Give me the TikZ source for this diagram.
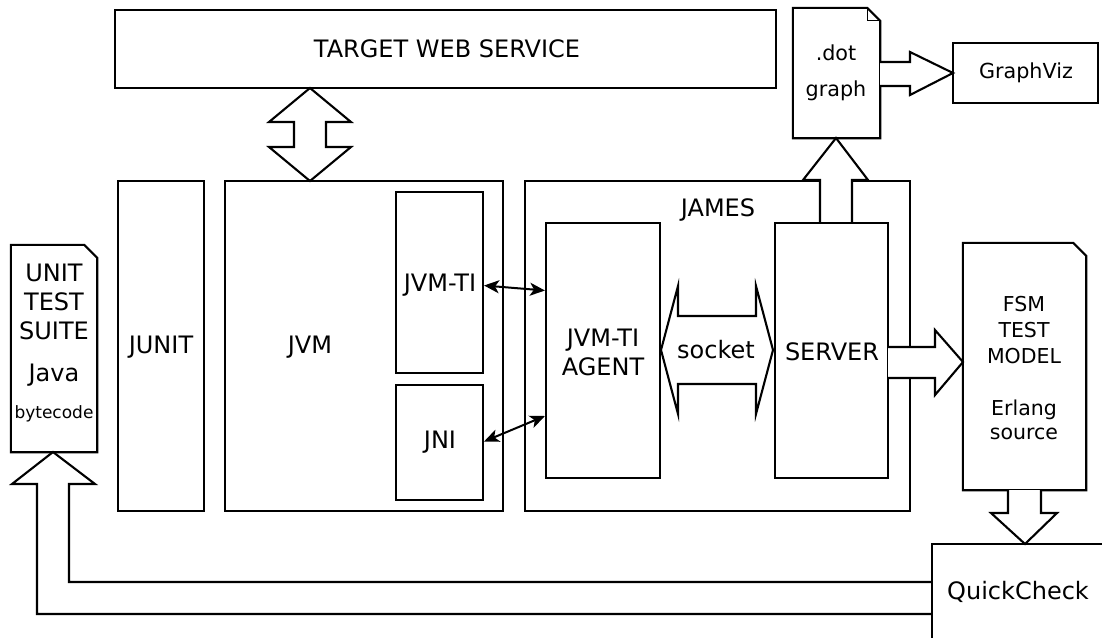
\documentclass[tikz,border=0pt]{standalone}
\usepackage{fontspec}
\setmainfont{DejaVu Sans}
\usetikzlibrary{arrows.meta}
\tikzset{
  box/.style={draw, line width=2.1pt, rectangle, inner sep=0pt},
  ghost/.style={rectangle, inner sep=0pt},
  lbl/.style={inner sep=0pt, font=\fontsize{24}{29}\selectfont},
  lblb/.style={inner sep=0pt, anchor=base, font=\fontsize{24}{29}\selectfont},
  fat/.style={draw, fill=white, line width=2.1pt, line join=miter},
  thin/.style={line width=2pt, {Stealth[length=15pt,width=13pt,inset=4pt]}-{Stealth[length=15pt,width=13pt,inset=4pt]}},
}
\begin{document}
\begin{tikzpicture}[x=1pt,y=-1pt]
\useasboundingbox (0,0) rectangle (1102,637);
\clip (0,0) rectangle (1102,637);
% boxes
\node[box, minimum width=661, minimum height=78] (tws) at (445.5,49) {};
\node[lbl] (twst) at (447,49) {TARGET WEB SERVICE};
\node[box, minimum width=86, minimum height=330] (junit) at (161,346) {};
\node[lbl] (junitt) at (161,347) {JUNIT};
\node[box, minimum width=278, minimum height=330] (jvm) at (364,346) {};
\node[lbl] (jvmt) at (310,347) {JVM};
\node[box, minimum width=87, minimum height=181] (jvmti) at (439.5,282.5) {};
\node[lbl] (jvmtit) at (440,285) {JVM-TI};
\node[box, minimum width=87, minimum height=115] (jni) at (439.5,442.5) {};
\node[lbl] (jnit) at (440,442) {JNI};
\node[box, minimum width=385, minimum height=330] (james) at (717.5,346) {};
\node[lbl] (jamest) at (718,210) {JAMES};
\node[box, minimum width=114, minimum height=255] (agent) at (603,350.5) {};
\node[lbl, align=center] (agentt) at (603,352) {JVM-TI\\AGENT};
\node[box, minimum width=113, minimum height=255] (server) at (831.5,350.5) {};
\node[lbl] (servert) at (832,352) {SERVER};
\node[box, minimum width=145, minimum height=60] (gv) at (1025.5,73) {};
\node[lbl, font=\fontsize{20.7}{24}\selectfont] (gvt) at (1026,73) {GraphViz};
\node[box, minimum width=180, minimum height=110] (qc) at (1022,599) {};
\node[lbl] (qct) at (1018,592) {QuickCheck};
% notes with folded corners
\node[ghost, minimum width=87, minimum height=130] (dot) at (836.5,73) {};
\draw[line width=2.1pt, line join=miter] (dot.north west) -- ([xshift=-13pt]dot.north east) -- ([yshift=-13pt]dot.north east) -- (dot.south east) -- (dot.south west) -- cycle;
\draw[line width=0.8pt] ([xshift=-13pt]dot.north east) |- ([yshift=-13pt]dot.north east);
\node[lblb, font=\fontsize{20.7}{24}\selectfont] (dott1) at (836,60) {.dot};
\node[lblb, font=\fontsize{20.7}{24}\selectfont] (dott2) at (836,96) {graph};
\node[ghost, minimum width=123, minimum height=247] (fsm) at (1024.5,366.5) {};
\draw[line width=2.1pt, line join=miter] (fsm.north west) -- ([xshift=-13pt]fsm.north east) -- ([yshift=-13pt]fsm.north east) -- (fsm.south east) -- (fsm.south west) -- cycle;
\node[lblb, font=\fontsize{20.5}{24}\selectfont] (fsm1) at (1024,311) {FSM};
\node[lblb, font=\fontsize{20.5}{24}\selectfont] (fsm2) at (1024,337) {TEST};
\node[lblb, font=\fontsize{20.5}{24}\selectfont] (fsm3) at (1024,363) {MODEL};
\node[lblb, font=\fontsize{20.5}{24}\selectfont] (fsm4) at (1024,415) {Erlang};
\node[lblb, font=\fontsize{20.5}{24}\selectfont] (fsm5) at (1024,439) {source};
\node[ghost, minimum width=86, minimum height=207] (uts) at (54,348.5) {};
\draw[line width=2.1pt, line join=miter] (uts.north west) -- ([xshift=-13pt]uts.north east) -- ([yshift=-13pt]uts.north east) -- (uts.south east) -- (uts.south west) -- cycle;
\node[lblb] (uts1) at (54,281) {UNIT};
\node[lblb] (uts2) at (54,310) {TEST};
\node[lblb] (uts3) at (54,339) {SUITE};
\node[lblb] (uts4) at (54,381) {Java};
\node[lblb, font=\fontsize{17}{20}\selectfont] (uts5) at (54,418) {bytecode};
% fat arrows
\draw[fat] (310,88) -- (351,122) -- (326,122) -- (326,147) -- (351,147) -- (310,181) -- (269,147) -- (294,147) -- (294,122) -- (269,122) -- cycle;
\draw[fat] (661,350) -- (678,286) -- (678,316) -- (756,316) -- (756,286) -- (773,350) -- (756,414) -- (756,384) -- (678,384) -- (678,414) -- cycle;
\node[lbl] (sockt) at (716,350) {socket};
\fill[white] (821,179) rectangle (851,222);
\draw[fat, fill=none] (820,223) -- (820,180) -- (803,180) -- (836,138) -- (868,180) -- (852,180) -- (852,223);
\fill[white] (880,63) rectangle (912,85);
\draw[fat] (880,62) -- (910,62) -- (910,52) -- (953,73) -- (910,95) -- (910,86) -- (880,86);
\draw[fat] (888,347) -- (935,347) -- (935,330) -- (963,362) -- (935,395) -- (935,378) -- (888,378);
\draw[fat] (1008,490) -- (1008,513) -- (991,513) -- (1025,544) -- (1057,513) -- (1041,513) -- (1041,490);
\draw[fat, fill=none] (932,582) -- (69,582) -- (69,484) -- (95,484) -- (53,452) -- (12,484) -- (37,484) -- (37,614) -- (932,614);
% thin arrows
\draw[thin] ([yshift=-3pt]jvmti.east) -- ([yshift=60pt]agent.west);
\draw[thin] ([yshift=1pt]jni.east) -- ([yshift=-65.5pt]agent.west);
\end{tikzpicture}
\end{document}
